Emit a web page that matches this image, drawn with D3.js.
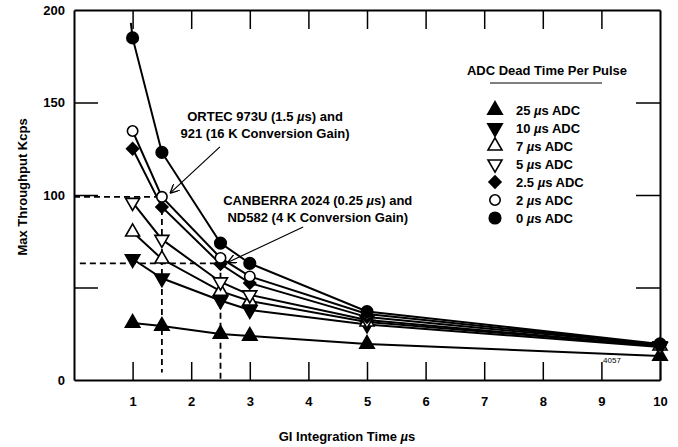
<!DOCTYPE html>
<html>
<head>
<meta charset="utf-8">
<script src="https://cdn.jsdelivr.net/npm/d3@7"></script>
<style>
  body { margin: 0; background: #fff; }
  svg { display: block; font-family: "Liberation Sans", Arial, sans-serif; font-weight: bold; }
</style>
</head>
<body>
<svg id="chart" width="678" height="447"></svg>
<script>
// GI integration times (x) and measured max throughput (Kcps) per ADC dead time
const times = [1, 1.5, 2.5, 3, 5, 10];
const adc25 = [30.8, 29.2, 24.9, 23.8, 19.5, 13];
const adc10 = [65.4, 55, 43, 37.8, 30, 17.8];
const adc7 = [80, 65.4, 48, 42.7, 31.4, 18.4];
const adc5 = [96, 76, 53, 46, 32.4, 18.4];
const adc2_5 = [125, 93.5, 62.7, 52.4, 34, 19];
const adc2 = [134.6, 99, 66, 56, 35.7, 19];
const adc0 = [184.9, 123, 74, 63, 37, 19.5];
const adc0Tail = [0.97, 193]; // curve continues above first point

const seriesNames = ["25", "10", "7", "5", "2.5", "2", "0"];
const seriesShapes = ["triUp", "triDown", "triUpOpen", "triDownOpen", "diamond", "circleOpen", "circle"];
const seriesValues = [adc25, adc10, adc7, adc5, adc2_5, adc2, adc0];

const xTicks = [1, 2, 3, 4, 5, 6, 7, 8, 9, 10];
const yTicks = [0, 50, 100, 150, 200];

// dashed guide lines: [x, y, x start, y end]
const guides = [[1.5, 99, 0, 4], [2.5, 63, 0.1, 0]];

const notes = [
  { lines: ["ORTEC 973U (1.5 ", "921 (16 K Conversion Gain)"], at: [3.26, 142.5], from: [2.49, 126], to: [1.64, 101] },
  { lines: ["CANBERRA 2024 (0.25 ", "ND582 (4 K Conversion Gain)"], at: [4.16, 97], from: [3.91, 82.7], to: [2.62, 63.5] }
];

const svg = d3.select("#chart");
const x = d3.scaleLinear([0, 10], [74, 660]);
const y = d3.scaleLinear([0, 200], [380, 10]);
const fs = 13;

// frame and ticks
const axisStyle = (g) => {
  g.select(".domain").attr("stroke-width", 2);
  g.selectAll(".tick line").attr("stroke-width", 1.5);
  g.selectAll("text").attr("font-size", fs).attr("font-family", null).attr("fill", "#000");
};
svg.append("g").attr("transform", `translate(0,${y(0)})`)
  .call(d3.axisBottom(x).tickValues(xTicks).tickSizeInner(-18).tickSizeOuter(0).tickPadding(17))
  .call(axisStyle);
svg.append("g").attr("transform", `translate(0,${y(200)})`)
  .call(d3.axisTop(x).tickValues(xTicks.slice(0, -1)).tickSizeInner(-19).tickSizeOuter(0).tickFormat(""))
  .call(axisStyle);
svg.append("g").attr("transform", `translate(${x(0)},0)`)
  .call(d3.axisLeft(y).tickValues(yTicks).tickSizeInner(-24).tickSizeOuter(0).tickPadding(9)
    .tickFormat((d) => (d === 50 ? "" : d)))
  .call(axisStyle);
svg.append("g").attr("transform", `translate(${x(10)},0)`)
  .call(d3.axisRight(y).tickValues(yTicks.slice(1, -1)).tickSizeInner(-24).tickSizeOuter(0).tickFormat(""))
  .call(axisStyle);
svg.selectAll(".tick").filter((d) => d === 0 || d === 200).select("line").remove();

// axis titles
const mu = (sel, before, after) => {
  sel.append("tspan").text(before);
  sel.append("tspan").attr("font-style", "italic").text("\u00b5");
  sel.append("tspan").text(after);
};
svg.append("text").attr("x", 347).attr("y", 441).attr("text-anchor", "middle").attr("font-size", fs)
  .call(mu, "GI Integration Time ", "s");
svg.append("text").attr("transform", `translate(27,${187}) rotate(-90)`).attr("text-anchor", "middle")
  .attr("font-size", fs).text("Max Throughput Kcps");
svg.append("text").attr("x", 612).attr("y", 363).attr("text-anchor", "middle").attr("font-size", 8)
  .attr("font-weight", "normal").text("4057");

// dashed guides
guides.forEach(([gx, gy, x0, y1]) => {
  svg.append("path")
    .attr("d", `M${x(x0)},${y(gy)}H${x(gx)}V${y(y1)}`)
    .attr("fill", "none").attr("stroke", "#000").attr("stroke-width", 1.8)
    .attr("stroke-dasharray", "6,4");
});

// curves
const line = d3.line().x((d) => x(d[0])).y((d) => y(d[1]));
seriesValues.forEach((vals, i) => {
  let pts = times.map((t, j) => [t, vals[j]]);
  if (seriesNames[i] === "0") pts = [adc0Tail, ...pts];
  svg.append("path").attr("d", line(pts)).attr("fill", "none").attr("stroke", "#000").attr("stroke-width", 2);
});

// markers
const shapes = {
  triUp: { type: d3.symbolTriangle, size: 90, rot: 0, fill: "#000" },
  triDown: { type: d3.symbolTriangle, size: 90, rot: 180, fill: "#000" },
  triUpOpen: { type: d3.symbolTriangle, size: 85, rot: 0, fill: "#fff" },
  triDownOpen: { type: d3.symbolTriangle, size: 85, rot: 180, fill: "#fff" },
  diamond: { type: d3.symbolSquare, size: 72, rot: 45, fill: "#000" },
  circleOpen: { type: d3.symbolCircle, size: 85, rot: 0, fill: "#fff" },
  circle: { type: d3.symbolCircle, size: 105, rot: 0, fill: "#000" }
};
const marker = (sel, key) => {
  const s = shapes[key];
  sel.attr("d", d3.symbol(s.type, s.size)())
    .attr("fill", s.fill).attr("stroke", "#000").attr("stroke-width", 1.6);
  return s;
};
seriesValues.forEach((vals, i) => {
  const s = shapes[seriesShapes[i]];
  svg.append("g").selectAll("path").data(times.map((t, j) => [t, vals[j]])).join("path")
    .call(marker, seriesShapes[i])
    .attr("transform", (d) => `translate(${x(d[0])},${y(d[1])}) rotate(${s.rot})`);
});

// annotations
svg.append("defs").append("marker").attr("id", "arrow").attr("viewBox", "0 0 10 10")
  .attr("refX", 10).attr("refY", 5).attr("markerWidth", 9).attr("markerHeight", 9)
  .attr("markerUnits", "userSpaceOnUse").attr("orient", "auto")
  .append("path").attr("d", "M0,0L10,5L0,10").attr("fill", "none").attr("stroke", "#000").attr("stroke-width", 1.5);
notes.forEach((n) => {
  const t = svg.append("text").attr("text-anchor", "middle").attr("font-size", fs);
  const l1 = t.append("tspan").attr("x", x(n.at[0])).attr("y", y(n.at[1]) + 4.5);
  mu(l1, n.lines[0], "s) and");
  t.append("tspan").attr("x", x(n.at[0])).attr("y", y(n.at[1]) + 21.5).text(n.lines[1]);
  svg.append("line")
    .attr("x1", x(n.from[0])).attr("y1", y(n.from[1])).attr("x2", x(n.to[0])).attr("y2", y(n.to[1]))
    .attr("stroke", "#000").attr("stroke-width", 1.2).attr("marker-end", "url(#arrow)");
});

// legend
const legend = svg.append("g").attr("transform", "translate(495,0)");
legend.append("text").attr("x", 52).attr("y", 75).attr("text-anchor", "middle").attr("font-size", fs)
  .text("ADC Dead Time Per Pulse");
legend.append("line").attr("x1", -5).attr("x2", 107).attr("y1", 83).attr("y2", 83)
  .attr("stroke", "#000").attr("stroke-width", 1.2);
const rows = legend.selectAll("g.row").data(seriesNames).join("g").attr("class", "row")
  .attr("transform", (d, i) => `translate(0,${110 + i * 18})`);
rows.append("path").each(function (d, i) {
  const s = marker(d3.select(this), seriesShapes[i]);
  d3.select(this).attr("transform", `rotate(${s.rot})`);
});
rows.append("text").attr("x", 21).attr("y", 4.5).attr("font-size", fs)
  .each(function (d) { mu(d3.select(this), d + " ", "s ADC"); });
</script>
</body>
</html>
